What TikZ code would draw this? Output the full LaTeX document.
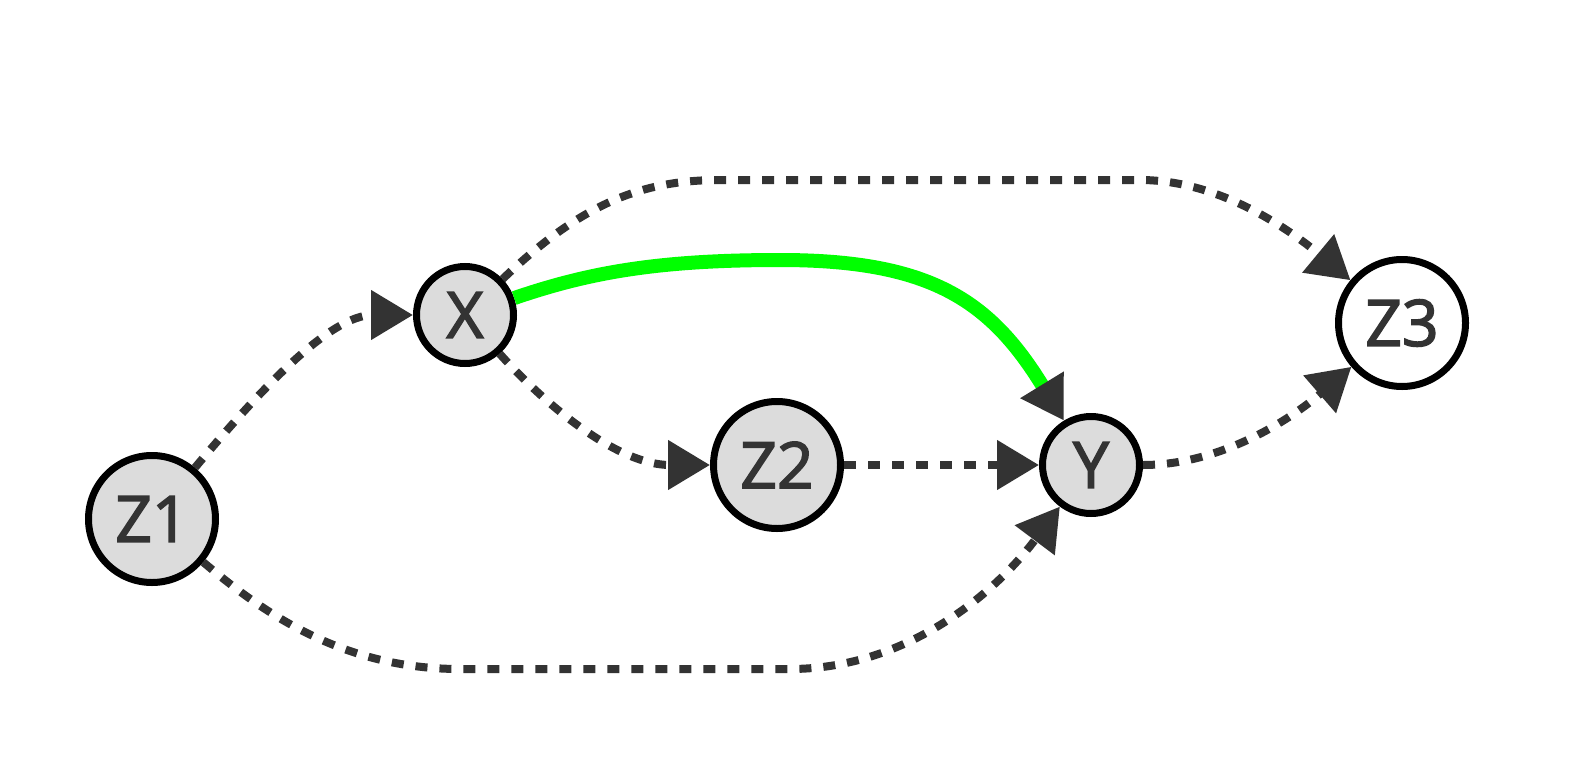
\documentclass[tikz,border=0pt]{standalone}
\usepackage{fontspec}
\setmainfont{Open Sans}
\newfontfamily\nodefont{Open Sans}[FakeBold=2.5]
\usetikzlibrary{arrows.meta}
\definecolor{ink}{HTML}{333333}
\definecolor{nodefill}{HTML}{DCDCDC}
\definecolor{hl}{HTML}{00FF00}
\tikzset{
  var/.style={circle, draw=black, line width=7pt, fill=nodefill, inner sep=0pt,
    text=ink, font=\fontsize{64}{64}\nodefont},
  big/.style={var, minimum size=127pt},
  small/.style={var, minimum size=97pt},
  dotedge/.style={draw=ink, line width=8pt, dash pattern=on 12pt off 12pt,
    -{Triangle[length=42pt,width=48pt]}},
  greenedge/.style={draw=hl, line width=14pt,
    -{Triangle[length=42pt,width=48pt,color=ink]}}
}
\begin{document}
\begin{tikzpicture}[x=1pt,y=-1pt]
\useasboundingbox (0,0) rectangle (1586,768);
\node[big] (Z1) at (152,519) {Z1};
\node[small] (X) at (465,315) {X};
\node[big] (Z2) at (777,465) {Z2};
\node[small] (Y) at (1091,465) {Y};
\node[big, fill=white] (Z3) at (1402,323) {Z3};
\coordinate (a1) at (720,180);
\coordinate (a2) at (1140,180);
\coordinate (g1) at (780,260);
\coordinate (b1) at (460,669);
\coordinate (b2) at (790,669);
% edges
\draw[dotedge] (Z1) .. controls (260,390) and (330,315) .. (X);
\draw[dotedge] (X) .. controls (580,205) and (640,180) .. (a1) -- (a2)
  .. controls (1220,180) and (1290,230) .. (Z3);
\draw[greenedge] (X) .. controls (590,272) and (660,260) .. (g1)
  .. controls (930,260) and (990,300) .. (Y);
\draw[dotedge] (X) .. controls (550,410) and (620,465) .. (Z2);
\draw[dotedge] (Z2) -- (Y);
\draw[dotedge] (Z1) .. controls (260,610) and (340,669) .. (b1) -- (b2)
  .. controls (900,669) and (990,600) .. (Y);
\draw[dotedge] (Y) .. controls (1220,465) and (1290,420) .. (Z3);
\end{tikzpicture}
\end{document}
